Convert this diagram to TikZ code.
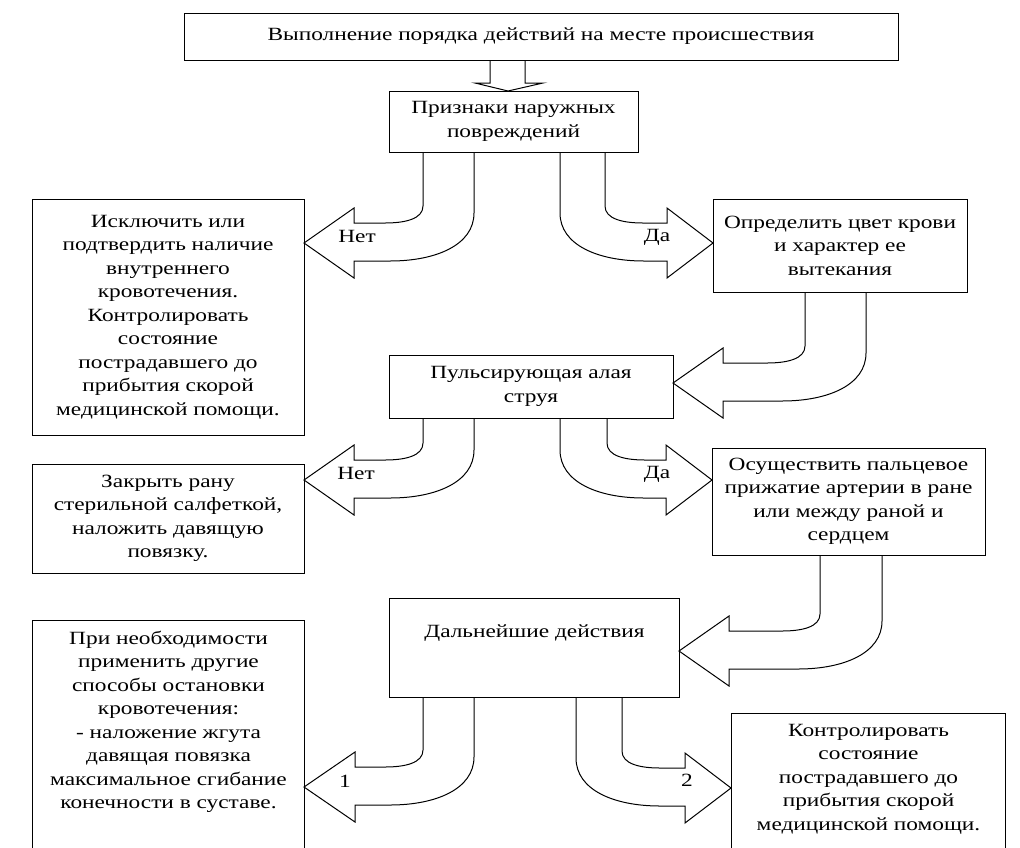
\documentclass[tikz,border=0pt]{standalone}
\usepackage{fontspec}
\setmainfont{Liberation Serif}[FakeStretch=1.25]
\newcommand\lcurve[6]{% inner x, outer x, top y, tip x, tip y, head length
\draw[barrow] (#1,#3) -- (#1,{#5-37}) .. controls (#1,{#5-24}) and ({#1-18},{#5-20}) .. ({#1-38},{#5-20})
 -- ({#4+#6},{#5-20}) -- ({#4+#6},{#5-35}) -- (#4,#5) -- ({#4+#6},{#5+35}) -- ({#4+#6},{#5+18})
 -- ({#2-84},{#5+18}) .. controls ({#2-38},{#5+18}) and (#2,{#5+2}) .. (#2,{#5-30}) -- (#2,#3);}
\newcommand\rcurve[6]{%
\draw[barrow] (#1,#3) -- (#1,{#5-37}) .. controls (#1,{#5-24}) and ({#1+18},{#5-20}) .. ({#1+38},{#5-20})
 -- ({#4-#6},{#5-20}) -- ({#4-#6},{#5-35}) -- (#4,#5) -- ({#4-#6},{#5+35}) -- ({#4-#6},{#5+18})
 -- ({#2+84},{#5+18}) .. controls ({#2+38},{#5+18}) and (#2,{#5+2}) .. (#2,{#5-30}) -- (#2,#3);}
\begin{document}
\begin{tikzpicture}[x=0.75pt,y=-0.75pt,
  box/.style={draw, line width=0.75pt, inner sep=0pt, align=center, font=\fontsize{14}{17.6}\selectfont},
  barrow/.style={draw, line width=0.75pt, line join=miter},
  lbl/.style={inner sep=0pt, font=\fontsize{14}{16}\selectfont}]
\useasboundingbox (0,0) rectangle (1020,847);
\fill[white] (0,0) rectangle (1020,847);
\clip (0,0) rectangle (1020,847);

\node[box, minimum width=535.5pt, minimum height=35.25pt] (top) at (541,36.5) {Выполнение порядка действий на месте происшествия};
\node[box, minimum width=186.75pt, minimum height=45.75pt] (sign) at (513.5,121.5) {Признаки наружных\\повреждений};
\node[box, minimum width=204pt, minimum height=177pt] (excl) at (168,317) {Исключить или\\подтвердить наличие\\внутреннего\\кровотечения.\\Контролировать\\состояние\\пострадавшего до\\прибытия скорой\\медицинской помощи.};
\node[box, minimum width=190.5pt, minimum height=69.75pt] (color) at (840,245.5) {Определить цвет крови\\и характер ее\\вытекания};
\node[box, minimum width=213pt, minimum height=47.25pt] (puls) at (531,386.5) {Пульсирующая алая\\струя};
\node[box, minimum width=204pt, minimum height=81.75pt] (close) at (168,518.5) {Закрыть рану\\стерильной салфеткой,\\наложить давящую\\повязку.};
\node[box, minimum width=204.75pt, minimum height=80.25pt] (press) at (848.5,501.5) {Осуществить пальцевое\\прижатие артерии в ране\\или между раной и\\сердцем};
\node[box, anchor=north west] (next) at (389,598) {\parbox[c][74.25pt][t]{217.5pt}{\centering\rule{0pt}{29.25pt}Дальнейшие действия}};
\node[box, anchor=north west] (other) at (32,620) {\parbox[c][190pt][t]{204pt}{\centering\rule{0pt}{18pt}При необходимости\\применить другие\\способы остановки\\кровотечения:\\- наложение жгута\\давящая повязка\\максимальное сгибание\\конечности в суставе.}};
\node[box, anchor=north west] (ctrl) at (731,713) {\parbox[c][115pt][t]{205.5pt}{\centering\rule{0pt}{17.25pt}Контролировать\\состояние\\пострадавшего до\\прибытия скорой\\медицинской помощи.}};

% straight arrow
\draw[barrow] (490,60) -- (490,83) -- (475,83) -- (508,91) -- (543,83) -- (525,83) -- (525,60);

\lcurve{423}{474}{152}{304}{243}{50}
\rcurve{605}{560}{152}{713}{243}{46}
\lcurve{805}{866}{292}{673}{383}{50}
\lcurve{423}{474}{418}{304}{480}{50}
\rcurve{607}{560}{418}{712}{480}{46}
\lcurve{820}{882}{555}{679}{651}{50}
\lcurve{423}{474}{697}{304}{787}{51}
\rcurve{622}{576}{697}{731}{788}{46}

\node[lbl] (no1) at (357,236) {Нет};
\node[lbl] (yes1) at (657,237) {Да};
\node[lbl] (no2) at (356,473) {Нет};
\node[lbl] (yes2) at (657,474) {Да};
\node[lbl] (one) at (345,781) {1};
\node[lbl] (two) at (687,780) {2};
\end{tikzpicture}
\end{document}
